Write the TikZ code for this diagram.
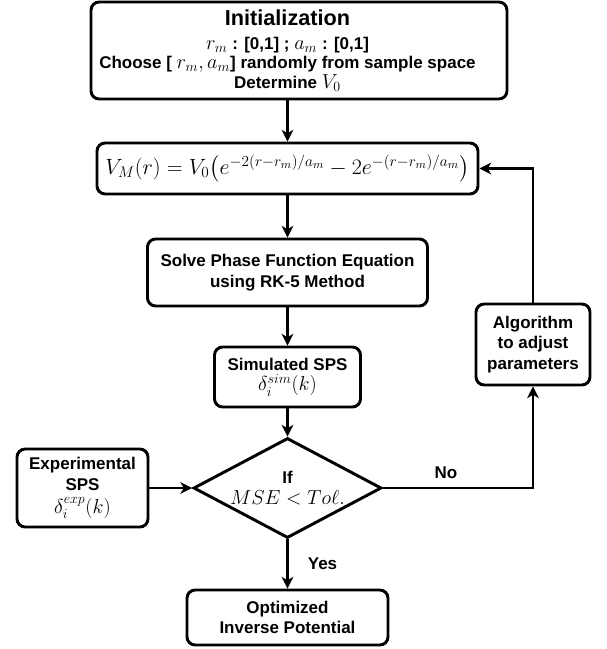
\documentclass[tikz,border=0pt]{standalone}
\usepackage{amsmath}
\usepackage{graphicx}
\usepackage{fontspec}
\setmainfont{Liberation Sans}
\DeclareMathSizes{14.5}{17}{12}{9}
\usetikzlibrary{arrows.meta,shapes.geometric}

\begin{document}

\begin{tikzpicture}[x=0.03cm,y=-0.03cm,line width=2.5pt,
  every node/.style={font=\fontsize{14.5}{17.6}\selectfont\bfseries},
  box/.style={draw,rounded corners=7pt,align=center,inner sep=0pt},
  arr/.style={-{Stealth[length=10pt,width=10pt,inset=3pt]}}]

\useasboundingbox (0,0) rectangle (606,649);

\node [box,minimum width=12.48cm,minimum height=2.91cm,
  font=\fontsize{14.5}{16.6}\selectfont\bfseries] (init) at (299,50.5)
  {\hspace*{-0.69cm}{\fontsize{18.5}{20}\selectfont Initialization}\\[4pt]
   \hspace*{-0.69cm}$r_m$ : [0,1] ; $a_m$ : [0,1]\\
   \hspace*{-0.69cm}Choose [ $r_m, a_m$] randomly from sample space\\
   \hspace*{-0.69cm}Determine $V_0$};

\node [box,minimum width=11.43cm,minimum height=1.53cm] (formula) at (287.5,168.5)
  {\scalebox{1.09}{$V_M(r) = V_0\bigl(e^{-2(r-r_m)/a_m} - 2e^{-(r-r_m)/a_m}\bigr)$}};

\node [box,minimum width=8.4cm,minimum height=2.01cm] (solve) at (287.5,272.5)
  {Solve Phase Function Equation\\using RK-5 Method};

\node [box,minimum width=4.38cm,minimum height=1.8cm] (sim) at (287.5,377)
  {Simulated SPS\\$\delta_i^{sim}(k)$};

\node [draw,diamond,align=center,inner sep=0pt,shape aspect=1.88,
  minimum width=5.64cm,minimum height=3cm] (dec) at (287.5,488)
  {If\\$MSE < To\ell.$};

\node [box,minimum width=3.93cm,minimum height=2.34cm] (exp) at (82.5,488)
  {Experimental\\SPS\\[2pt]$\delta_i^{exp}(k)$};

\node [box,minimum width=3.42cm,minimum height=2.43cm] (algo) at (533,344.5)
  {Algorithm\\to adjust\\parameters};

\node [box,minimum width=6.03cm,minimum height=1.65cm] (opt) at (287.5,617.5)
  {Optimized\\Inverse Potential};

\draw [arr] (formula.north |- init.south) -- (formula.north);
\draw [arr] (formula) -- (solve);
\draw [arr] (solve) -- (sim);
\draw [arr] (sim) -- (dec);
\draw [arr] (exp) -- (dec);
\draw [arr] (dec) -- node [right=0.45cm] {Yes} (opt);
\draw [arr] (dec.east) -| node [pos=0.21,above=3pt] {No} (algo.south);
\draw [arr] (algo.north) |- (formula.east);

\end{tikzpicture}

\end{document}
